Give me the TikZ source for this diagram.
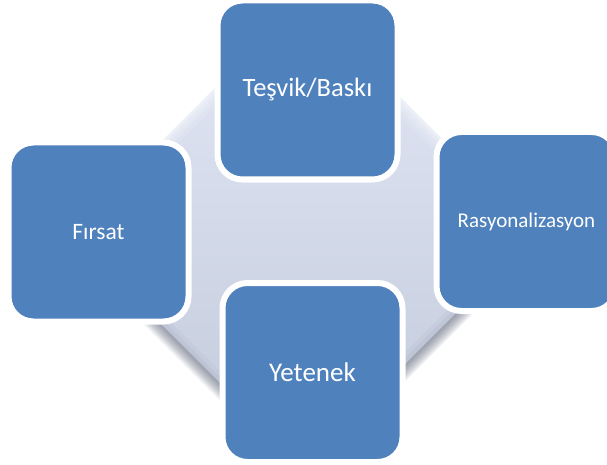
\documentclass[tikz,border=0pt]{standalone}
\usepackage{fontspec}
\setmainfont{Carlito}
\definecolor{boxblue}{HTML}{4F81BD}
\definecolor{bgtop}{HTML}{E2E8F6}
\definecolor{bgmid}{HTML}{CDD5E3}
\definecolor{bgbot}{HTML}{C2C9D9}
\definecolor{shadecol}{HTML}{4A5268}
\begin{document}
\begin{tikzpicture}[x=1pt,y=-1pt,
  stage/.style={draw=white, line width=6pt, fill=boxblue, rounded corners=25pt,
    minimum width=180pt, minimum height=179pt, inner sep=0pt, text=white, align=center},
  diamondpath/.style={rounded corners=30pt}
]
\useasboundingbox (0,0) rectangle (607,465);
\clip (0,0) rectangle (607,465);
% soft drop shadow of the background diamond
\foreach \i in {1,...,18}{
  \fill[shadecol, opacity=0.045, diamondpath, yshift=-\i pt]
    (303,0) -- (536,233) -- (303,466) -- (70,233) -- cycle;
}
% background diamond
\shade[diamondpath, top color=bgtop, middle color=bgmid, bottom color=bgbot]
  (303,0) -- (536,233) -- (303,466) -- (70,233) -- cycle;
% bevel highlight on the upper edges, darker rim on the lower ones
\begin{scope}
  \clip[diamondpath] (303,0) -- (536,233) -- (303,466) -- (70,233) -- cycle;
  \foreach \w/\o in {26/0.12, 18/0.15, 10/0.2, 4/0.25}{
    \draw[white, opacity=\o, line width=\w pt] (70,233) -- (303,0) -- (536,233);
  }
  \foreach \w/\o in {16/0.04, 8/0.05}{
    \draw[shadecol, opacity=\o, line width=\w pt] (70,233) -- (303,466) -- (536,233);
  }
\end{scope}
% the four stages
\node[stage] (top) at (307.5,90) {\fontsize{26.5}{31}\selectfont Teşvik/Baskı};
\node[stage] (left) at (98.5,232) {\fontsize{23.5}{28}\selectfont Fırsat};
\node[stage] (right) at (526.5,221.5) {\fontsize{21}{26}\selectfont Rasyonalizasyon};
\node[stage] (bottom) at (312.5,372.5) {\fontsize{27}{32}\selectfont Yetenek};
\end{tikzpicture}
\end{document}
